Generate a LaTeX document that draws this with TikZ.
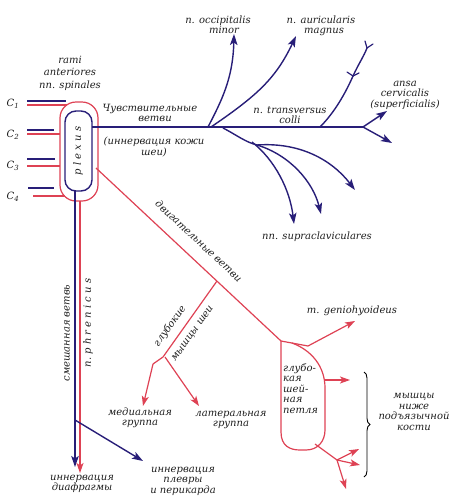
\documentclass[tikz,border=0pt]{standalone}
\usepackage{fontspec}
\setmainfont{DejaVu Serif}
\usetikzlibrary{arrows.meta,decorations.pathreplacing}
\definecolor{nblue}{RGB}{40,30,120}
\definecolor{nred}{RGB}{222,66,84}
\definecolor{ntext}{RGB}{30,30,30}
\begin{document}
\begin{tikzpicture}[x=1pt,y=-1pt,
  bl/.style={draw=nblue,line width=1.4pt},
  rd/.style={draw=nred,line width=1.2pt},
  twig/.style={draw=nblue,line width=1.2pt,line cap=round},
  tipb/.style={-{Stealth[length=11pt,width=7.5pt,inset=2.5pt]},nblue},
  tipr/.style={-{Stealth[length=10pt,width=7pt,inset=2.5pt]},nred},
  lbl/.style={font=\itshape\fontsize{10}{10.5}\selectfont,inner sep=0pt,align=center,text=ntext},
]
\useasboundingbox (0,0) rectangle (456,504);

% ---------- plexus ----------
\node[rd,rounded corners=16pt,minimum width=38pt,minimum height=99pt,inner sep=0pt] (outer) at (79,151.5) {};
\node[bl,rounded corners=11pt,minimum width=27pt,minimum height=80pt,inner sep=0pt] (inner) at (78.5,151) {};
\node[lbl,rotate=90] (plx) at (78,151) {p l e x u s};

\node[lbl,font=\itshape\fontsize{10}{12.5}\selectfont] (rami) at (70,73) {rami\\anteriores\\nn. spinales};

\node[lbl] (c1) at (13,104) {C\textsubscript{1}};
\node[lbl] (c2) at (13,135) {C\textsubscript{2}};
\node[lbl] (c3) at (13,166) {C\textsubscript{3}};
\node[lbl] (c4) at (13,197) {C\textsubscript{4}};

\coordinate (c1b) at (27,101); \coordinate (c1be) at (66,101);
\coordinate (c1r) at (27,105); \coordinate (c1re) at (67,105);
\coordinate (c2b) at (27,130); \coordinate (c2be) at (54,130);
\coordinate (c2r) at (27,134); \coordinate (c2re) at (60,134);
\coordinate (c3b) at (27,159); \coordinate (c3be) at (55,159);
\coordinate (c3r) at (27,166); \coordinate (c3re) at (60,166);
\coordinate (c4b) at (28,188); \coordinate (c4be) at (54,188);
\coordinate (c4r) at (33,196); \coordinate (c4re) at (65,196);
\draw[bl] (c1b) -- (c1be); \draw[rd] (c1r) -- (c1re);
\draw[bl] (c2b) -- (c2be); \draw[rd] (c2r) -- (c2re);
\draw[bl] (c3b) -- (c3be); \draw[rd] (c3r) -- (c3re);
\draw[bl] (c4b) -- (c4be); \draw[rd] (c4r) -- (c4re);

% ---------- descending branches ----------
\coordinate (vb0) at (75,191); \coordinate (vb1) at (75,467);
\coordinate (vr0) at (80,201); \coordinate (vr1) at (80,473);
\coordinate (pl0) at (75,420); \coordinate (pl1) at (143,461);
\draw[bl,tipb] (vb0) -- (vb1);
\draw[rd,tipr] (vr0) -- (vr1);
\draw[bl,tipb] (pl0) -- (pl1);

\node[lbl,rotate=90] (mixed) at (67,333) {смешанная ветвь};
\node[lbl,rotate=90] (phren) at (88,323) {n.\ p h r e n i c u s};
\node[lbl] (diaph) at (82,484) {иннервация\\диафрагмы};
\node[lbl] (pleur) at (183,481) {иннервация\\плевры\\и перикарда};

% ---------- sensory branches ----------
\coordinate (m0) at (92,127); \coordinate (j1) at (208,127);
\coordinate (j1b) at (211,127); \coordinate (j1c) at (223,128);
\coordinate (j3) at (320,127); \coordinate (mend) at (363,127);
\draw[bl] (m0) -- (mend);

\coordinate (occ) at (234,34);
\draw[bl,tipb] (j1) .. controls (222,100) and (233,78) .. (occ);
\coordinate (aur) at (296,36);
\draw[bl,tipb] (j1b) .. controls (258,95) and (276,78) .. (aur);

% Y-ended branch
\coordinate (ytop) at (367,48); \coordinate (ymid) at (353,76);
\draw[bl] (j3) .. controls (335,112) and (346,92) .. (ymid)
  .. controls (359,63) and (364,56) .. (ytop);
\draw[twig] (ytop) -- ++(-2,-7);
\draw[twig] (ytop) -- ++(6,-4);
\draw[twig] (ymid) -- ++(-6,-4);
\draw[twig] (ymid) -- ++(6,-3);

\coordinate (ans1) at (387,111); \coordinate (ans2) at (392,143);
\draw[bl,tipb] (mend) -- (ans1);
\draw[bl,tipb] (mend) -- (ans2);

% supraclavicular
\coordinate (sc0) at (257,145); \coordinate (sc0b) at (252,142);
\coordinate (sc1) at (294,224); \coordinate (sc2) at (321,214); \coordinate (sc3) at (355,190);
\draw[bl] (j1c) .. controls (235,134) and (245,142) .. (sc0);
\draw[bl,tipb] (sc0b) .. controls (275,160) and (290,190) .. (sc1);
\draw[bl,tipb] (sc0) .. controls (290,155) and (313,182) .. (sc2);
\draw[bl,tipb] (sc0) .. controls (300,142) and (332,160) .. (sc3);

\node[lbl] (sens) at (150,113) {Чувствительные\\\hspace*{10pt}ветви};
\node[lbl] (skin) at (154,147) {(иннервация кожи\\шеи)};
\node[lbl] (occt) at (218,25) {n. occipitalis\\\hspace*{12pt}minor};
\node[lbl] (aurt) at (321,26) {n. auricularis\\\hspace*{6pt}magnus};
\node[lbl] (trans) at (290,115) {n. transversus\\colli};
\node[lbl] (ansa) at (405,95) {ansa\\cervicalis\\(superficialis)};
\node[lbl] (supra) at (317,237) {nn. supraclaviculares};

% ---------- motor branches ----------
\coordinate (d0) at (96,168); \coordinate (dg) at (217,281); \coordinate (j2) at (281,341);
\draw[rd] (d0) -- (j2);
\node[lbl,rotate=-43] (motor) at (199,241) {двигательные ветви};

\coordinate (gs) at (163,357); \coordinate (gm) at (153,364); \coordinate (gs2) at (165,357);
\coordinate (med) at (143,406); \coordinate (lat) at (199,406);
\draw[rd] (dg) -- (gs) -- (gm);
\draw[rd,tipr] (gm) -- (med);
\draw[rd,tipr] (gs2) -- (lat);
\node[lbl,rotate=54.6] (deep1) at (170,326) {глубокие};
\node[lbl,rotate=54.6] (deep2) at (193,334) {мышцы шеи};
\node[lbl] (medt) at (140,418) {медиальная\\группа};
\node[lbl] (latt) at (231,420) {латеральная\\группа};

% loop
\coordinate (gh0) at (308,346); \coordinate (gh1) at (355,321);
\draw[rd] (j2) -- (gh0);
\draw[rd,tipr] (gh0) -- (gh1);
\draw[rd] (j2) -- (281,432) .. controls (281,446) and (290,450) .. (300,450)
  -- (306,450) .. controls (318,450) and (325,441) .. (325,430)
  -- (325,388) .. controls (325,366) and (311,350) .. (292,343);
\coordinate (lr0) at (324,380); \coordinate (lr1) at (350,380);
\draw[rd,tipr] (lr0) -- (lr1);
\coordinate (lb0) at (315,444); \coordinate (lb1) at (337,460);
\coordinate (lt1) at (359,449); \coordinate (lt2) at (360,465); \coordinate (lt3) at (346,489);
\draw[rd] (lb0) -- (lb1);
\draw[rd,tipr] (lb1) -- (lt1);
\draw[rd,tipr] (lb1) -- (lt2);
\draw[rd,tipr] (lb1) -- (lt3);

\node[lbl,align=left,anchor=north west] (ansat) at (283,363) {глубо-\\кая\\шей-\\ная\\петля};
\node[lbl] (genio) at (352,311) {m. geniohyoideus};

\coordinate (br0) at (364,372); \coordinate (br1) at (364,477);
\draw[black,line width=0.9pt,decorate,decoration={brace,amplitude=6pt}] (br0) -- (br1);
\node[lbl] (infra) at (414,412) {мышцы\\ниже\\подъязычной\\кости};
\end{tikzpicture}
\end{document}
